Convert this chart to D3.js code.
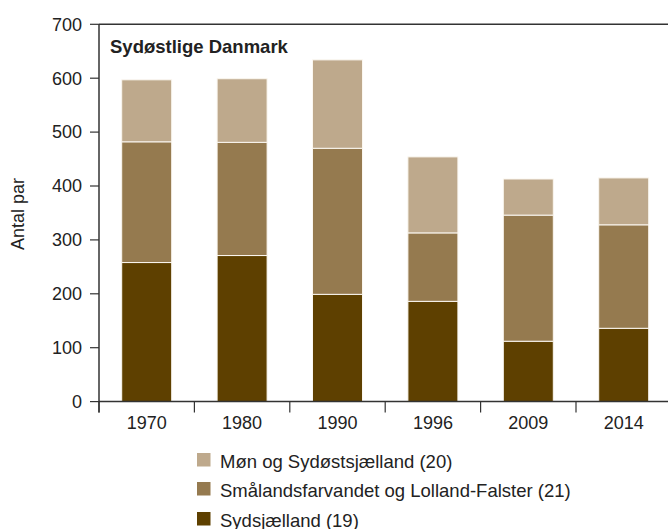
<!DOCTYPE html>
<html>
<head>
<meta charset="utf-8">
<script src="https://cdn.jsdelivr.net/npm/d3@7"></script>
<style>
  body { margin: 0; background: #fff; }
  svg { display: block; font-family: "Liberation Sans", Arial, sans-serif; }
</style>
</head>
<body>
<svg id="chart" width="668" height="529"></svg>
<script>
const years = ["1970", "1980", "1990", "1996", "2009", "2014"];
const sydsjaelland = [258, 271, 199, 186, 112, 136];
const smaalands = [224, 210, 271, 127, 234, 192];
const moen = [115, 118, 164, 141, 67, 87];
const seriesNames = ["Sydsjælland (19)", "Smålandsfarvandet og Lolland-Falster (21)", "Møn og Sydøstsjælland (20)"];
const seriesColors = ["#5e4000", "#957a4f", "#bea98c"];
const yTicks = [0, 100, 200, 300, 400, 500, 600, 700];
const chartTitle = "Sydøstlige Danmark";
const yLabel = "Antal par";

const svg = d3.select("#chart");
const mLeft = 99, mTop = 24.3, mBottom = 401.6, step = 95.4;
const mRight = mLeft + step * years.length;
const pad = 0.476;

const x = d3.scaleBand().domain(years).range([mLeft, mRight]).paddingInner(pad).paddingOuter(pad / 2);
const y = d3.scaleLinear().domain([0, 700]).range([mBottom, mTop]);

const rows = years.map((yr, i) => ({ year: yr, s0: sydsjaelland[i], s1: smaalands[i], s2: moen[i] }));
const stack = d3.stack().keys(["s0", "s1", "s2"])(rows);

// bars
svg.append("g").selectAll("g").data(stack).join("g")
  .attr("fill", (d, i) => seriesColors[i])
  .selectAll("rect").data(d => d).join("rect")
  .attr("x", d => x(d.data.year))
  .attr("width", x.bandwidth())
  .attr("y", d => y(d[1]))
  .attr("height", d => y(d[0]) - y(d[1]))
  .attr("stroke", "#fbf7f0")
  .attr("stroke-width", 1);

const axisColor = "#333";
const textColor = "#222";

// top border line
svg.append("line").attr("x1", mLeft).attr("x2", 668).attr("y1", y(700)).attr("y2", y(700))
  .attr("stroke", axisColor).attr("stroke-width", 1.5);

// y axis
const yAxis = svg.append("g");
yAxis.append("line").attr("x1", mLeft).attr("x2", mLeft).attr("y1", y(700)).attr("y2", mBottom + 11)
  .attr("stroke", axisColor).attr("stroke-width", 1.5);
yAxis.selectAll("line.tick").data(yTicks).join("line").attr("class", "tick")
  .attr("x1", mLeft - 9).attr("x2", mLeft).attr("y1", d => y(d)).attr("y2", d => y(d))
  .attr("stroke", axisColor).attr("stroke-width", 1.2);
yAxis.selectAll("text").data(yTicks).join("text")
  .attr("x", mLeft - 17).attr("y", d => y(d)).attr("dy", "0.35em")
  .attr("text-anchor", "end").attr("font-size", 18).attr("fill", textColor)
  .text(d => d);

// x axis
const xAxis = svg.append("g");
xAxis.append("line").attr("x1", mLeft).attr("x2", 668).attr("y1", mBottom).attr("y2", mBottom)
  .attr("stroke", axisColor).attr("stroke-width", 1.5);
const boundaries = years.map(yr => x(yr) - x.step() * pad / 2);
boundaries.push(mRight);
xAxis.selectAll("line.tick").data(boundaries).join("line").attr("class", "tick")
  .attr("x1", d => d).attr("x2", d => d).attr("y1", mBottom).attr("y2", mBottom + 11)
  .attr("stroke", axisColor).attr("stroke-width", 1.2);
xAxis.selectAll("text").data(years).join("text")
  .attr("x", d => x(d) + x.bandwidth() / 2).attr("y", 429)
  .attr("text-anchor", "middle").attr("font-size", 18).attr("fill", textColor)
  .text(d => d);

// title
svg.append("text").attr("x", 110).attr("y", 53).attr("font-size", 18.5).attr("font-weight", "bold")
  .attr("fill", textColor).text(chartTitle);

// y label
svg.append("text").attr("transform", `translate(24,${214}) rotate(-90)`)
  .attr("text-anchor", "middle").attr("font-size", 18).attr("fill", textColor).text(yLabel);

// legend (reverse order: Møn at top)
const legendOrder = [2, 1, 0];
const legendTops = [453, 482, 512];
const lg = svg.append("g");
legendOrder.forEach((si, k) => {
  lg.append("rect").attr("x", 197).attr("y", legendTops[k]).attr("width", 13.5).attr("height", 13.5)
    .attr("fill", seriesColors[si]);
  lg.append("text").attr("x", 220).attr("y", legendTops[k] + 14.5).attr("font-size", 18.5)
    .attr("fill", textColor).text(seriesNames[si]);
});
</script>
</body>
</html>
